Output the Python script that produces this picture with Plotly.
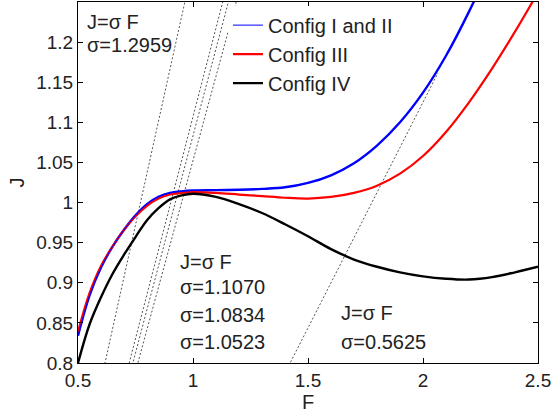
import plotly.graph_objects as go

# ---- data ----
F = [0.5, 0.55, 0.6, 0.65, 0.7, 0.75, 0.8, 0.85, 0.9, 0.95, 1.0, 1.1, 1.2, 1.3,
     1.4, 1.5, 1.6, 1.7, 1.8, 1.9, 2.0, 2.1, 2.2, 2.3, 2.4, 2.5]
J_cfg12 = [0.834, 0.884, 0.919, 0.945, 0.966, 0.984, 0.998, 1.007, 1.012, 1.014,
           1.015, 1.0155, 1.016, 1.017, 1.019, 1.0245, 1.034, 1.049, 1.071, 1.100,
           1.137, 1.183, 1.238, 1.300, 1.370, 1.450]
J_cfg3 = [0.839, 0.887, 0.921, 0.945, 0.966, 0.983, 0.996, 1.005, 1.010, 1.012,
          1.013, 1.012, 1.010, 1.008, 1.006, 1.005, 1.007, 1.012, 1.021, 1.036,
          1.058, 1.088, 1.125, 1.167, 1.213, 1.262]
J_cfg4 = [0.800, 0.848, 0.882, 0.911, 0.935, 0.957, 0.978, 0.993, 1.004, 1.009,
          1.011, 1.007, 0.998, 0.987, 0.973, 0.958, 0.942, 0.929, 0.920, 0.913,
          0.908, 0.905, 0.904, 0.907, 0.913, 0.920]

sigmas = [1.2959, 1.1070, 1.0834, 1.0523, 0.5625]
sigma_F_end = [1.0, 1.2, 1.2, 1.2, 2.065]
sigma_F_start = 0.5

legend_names = ["Config I and II", "Config III", "Config IV"]

FONT = "Liberation Sans, Arial, Helvetica, sans-serif"
TXT = "#222222"

fig = go.Figure()

# load lines J = sigma F
for s, fe in zip(sigmas, sigma_F_end):
    fx = [sigma_F_start, fe]
    fig.add_trace(go.Scatter(x=fx, y=[s * v for v in fx], mode="lines",
                             line=dict(color="#555555", width=1, dash="2px,2px"),
                             showlegend=False, hoverinfo="skip"))

# curves
fig.add_trace(go.Scatter(x=F, y=J_cfg12, mode="lines", showlegend=False,
                         line=dict(color="#0000ff", width=2.4, shape="spline")))
fig.add_trace(go.Scatter(x=F, y=J_cfg3, mode="lines", name=legend_names[1],
                         line=dict(color="#ff0000", width=2.2, shape="spline"),
                         legendrank=2))
fig.add_trace(go.Scatter(x=F, y=J_cfg4, mode="lines", name=legend_names[2],
                         line=dict(color="#000000", width=2.4, shape="spline"),
                         legendrank=3))
fig.add_trace(go.Scatter(x=F, y=J_cfg12, mode="lines", name=legend_names[0],
                         line=dict(color="#0000ff", width=1, shape="spline"),
                         legendrank=1))

ann = [
    ("J=σ F", 0.5304, 1.2252),
    ("σ=1.2959", 0.5304, 1.1965),
    ("J=σ F", 0.9348, 0.9259),
    ("σ=1.1070", 0.9348, 0.8948),
    ("σ=1.0834", 0.9348, 0.8599),
    ("σ=1.0523", 0.9348, 0.8262),
    ("J=σ F", 1.6348, 0.8623),
    ("σ=0.5625", 1.6348, 0.8262),
]
for t, x, y in ann:
    fig.add_annotation(x=x, y=y, text=t, showarrow=False, xanchor="left",
                       yanchor="middle", font=dict(size=20, color=TXT, family=FONT))

axis_common = dict(showline=True, linecolor="black", linewidth=1, mirror="ticks",
                   ticks="inside", ticklen=5, tickcolor="black", showgrid=False,
                   zeroline=False, tickfont=dict(size=19, color=TXT, family=FONT))
fig.update_xaxes(range=[0.5, 2.5], tickvals=[0.5, 1, 1.5, 2, 2.5],
                 ticktext=["0.5", "1", "1.5", "2", "2.5"],
                 title=dict(text="F", font=dict(size=20, color=TXT, family=FONT), standoff=0),
                 **axis_common)
fig.update_yaxes(range=[0.8, 1.25],
                 tickvals=[0.8, 0.85, 0.9, 0.95, 1, 1.05, 1.1, 1.15, 1.2],
                 ticktext=["0.8", "0.85", "0.9", "0.95", "1", "1.05", "1.1", "1.15", "1.2"],
                 title=dict(text="J", font=dict(size=20, color=TXT, family=FONT), standoff=6),
                 **axis_common)

fig.update_layout(
    width=552, height=413,
    margin=dict(l=78, r=14, t=2, b=50),
    paper_bgcolor="white", plot_bgcolor="white",
    font=dict(family=FONT, color=TXT),
    showlegend=True,
    legend=dict(x=0.326, y=0.99, xanchor="left", yanchor="top",
                bgcolor="white", borderwidth=0,
                font=dict(size=20, color=TXT, family=FONT),
                tracegroupgap=0, itemwidth=30),
)

fig.write_html("out.html")
